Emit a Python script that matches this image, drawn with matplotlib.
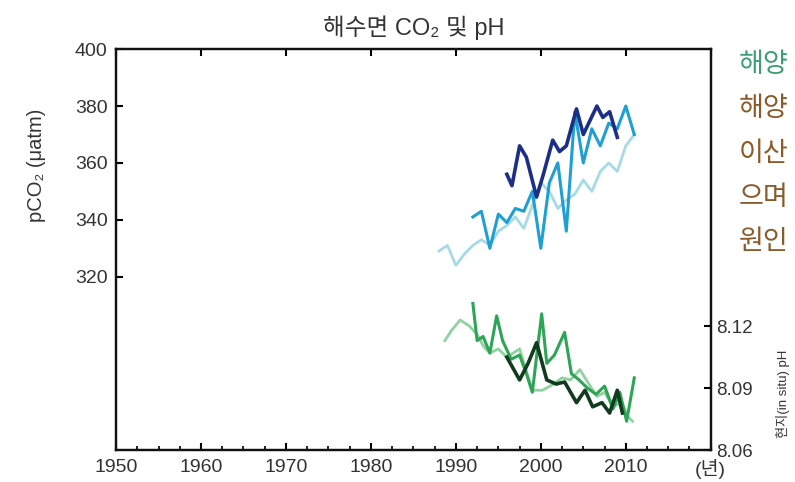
import matplotlib.pyplot as plt
from matplotlib.ticker import MultipleLocator, FixedLocator

plt.rcParams['font.family'] = ['Liberation Sans', 'Noto Sans CJK KR', 'DejaVu Sans']

# surface ocean pCO2 (uatm), three stations
years_co2_a = [1988, 1989, 1990, 1991, 1992, 1993, 1994, 1995, 1996, 1997, 1998, 1999,
               2000, 2001, 2002, 2003, 2004, 2005, 2006, 2007, 2008, 2009, 2010, 2011]
co2_a = [329, 331, 324, 328, 331, 333, 331, 336, 338, 341, 337, 345,
         353, 350, 344, 347, 349, 354, 350, 357, 360, 357, 366, 370]

years_co2_b = [1992, 1993, 1994, 1995, 1996, 1997, 1998, 1999, 2000, 2001,
               2002, 2003, 2004, 2005, 2006, 2007, 2008, 2009, 2010, 2011]
co2_b = [341, 343, 330, 342, 339, 344, 343, 350, 330, 353,
         360, 336, 378, 360, 372, 366, 374, 372, 380, 370]

years_co2_c = [1996, 1996.6, 1997.5, 1998.3, 1999.5, 2000.3, 2001.4, 2002.2, 2003, 2004.2,
               2005, 2006.6, 2007.3, 2008.1, 2009]
co2_c = [356, 352, 366, 362, 348, 356, 368, 364, 366, 379,
         370, 380, 376, 378, 369]

# surface ocean pH (in situ), three stations
years_ph_a = [1988.7, 1989.5, 1990.5, 1991.6, 1992.5, 1993.3, 1994, 1995, 1996, 1997.5,
              1999, 2000.2, 2001.5, 2002.5, 2003.5, 2004.6, 2005.5, 2006.6, 2007.5,
              2008.5, 2009.5, 2010.3, 2010.8]
ph_a = [8.113, 8.118, 8.123, 8.120, 8.116, 8.110, 8.107, 8.109, 8.105, 8.109,
        8.089, 8.089, 8.092, 8.095, 8.094, 8.099, 8.093, 8.086, 8.088,
        8.081, 8.083, 8.076, 8.074]

years_ph_b = [1992, 1992.5, 1993.2, 1994, 1994.8, 1995.5, 1996.5, 1997.5, 1998.3, 1999,
              2000.1, 2000.7, 2001.6, 2002.8, 2003.6, 2004.5, 2005.5, 2006.5, 2007.5,
              2008.5, 2009.3, 2010.1, 2011]
ph_b = [8.131, 8.113, 8.115, 8.107, 8.125, 8.113, 8.104, 8.106, 8.097, 8.088,
        8.126, 8.102, 8.106, 8.117, 8.097, 8.094, 8.090, 8.087, 8.091,
        8.080, 8.088, 8.074, 8.095]

years_ph_c = [1996, 1997.5, 1998.5, 1999.5, 2000.7, 2001.8, 2002.8, 2004.2, 2005.2,
              2006.1, 2007.2, 2008.1, 2009, 2009.6]
ph_c = [8.105, 8.094, 8.102, 8.112, 8.094, 8.092, 8.093, 8.083, 8.089,
        8.081, 8.083, 8.078, 8.089, 8.078]

x_ticks = [1950, 1960, 1970, 1980, 1990, 2000, 2010, 2020]
x_labels = ['1950', '1960', '1970', '1980', '1990', '2000', '2010', '(년)']
side_lines = ['해양', '해양', '이산', '으며', '원인']
side_colors = ['#3a9f72', '#8a5a28', '#8a5a28', '#8a5a28', '#8a5a28']

txt = '#333333'
fig = plt.figure(figsize=(7.95, 4.82), dpi=100)
ax = fig.add_axes([0.146, 0.066, 0.748, 0.832])
ax2 = ax.twinx()

ax.plot(years_co2_a, co2_a, color='#a6dbe6', lw=2.0)
ax.plot(years_co2_b, co2_b, color='#1f9fd2', lw=2.2)
ax.plot(years_co2_c, co2_c, color='#1c2f86', lw=2.6)

ax2.plot(years_ph_a, ph_a, color='#8fd29f', lw=2.0)
ax2.plot(years_ph_b, ph_b, color='#2ea456', lw=2.2)
ax2.plot(years_ph_c, ph_c, color='#123a1e', lw=2.6)

ax.set_xlim(1950, 2020)
ax.set_ylim(259, 400)
ax2.set_ylim(8.06, 8.254)

ax.xaxis.set_major_locator(FixedLocator(x_ticks))
ax.set_xticklabels(x_labels)
ax.xaxis.set_minor_locator(MultipleLocator(2.5))
ax.yaxis.set_major_locator(FixedLocator([320, 340, 360, 380, 400]))
ax2.yaxis.set_major_locator(FixedLocator([8.06, 8.09, 8.12]))
ax2.set_yticklabels(['8.06', '8.09', '8.12'])

ax.tick_params(axis='x', which='major', direction='in', top=True, length=5, width=1.5,
               labelsize=14, labelcolor=txt, pad=6)
ax.tick_params(axis='x', which='minor', direction='in', top=False, length=3, width=1.2)
ax.tick_params(axis='y', direction='in', length=5, width=1.5, labelsize=14,
               labelcolor=txt, pad=6)
ax2.tick_params(axis='y', direction='in', length=5, width=1.5, labelsize=13.5,
                labelcolor=txt, pad=4)

for a in (ax, ax2):
    for s in a.spines.values():
        s.set_linewidth(1.6)
        s.set_color('#111111')

ax.set_title('해수면 CO₂ 및 pH', fontsize=17, color=txt, pad=10)
ax.set_ylabel('pCO₂ (μatm)', fontsize=14.5, color=txt)
ax.yaxis.set_label_coords(-0.118, 0.71)
ax2.set_ylabel('현지(in situ) pH', fontsize=9.5, color=txt)
ax2.yaxis.set_label_coords(1.11, 0.14)

for i, (s, c) in enumerate(zip(side_lines, side_colors)):
    fig.text(0.929, 0.865 - i * 0.092, s, fontsize=19.5, color=c, va='center', ha='left')

fig.savefig('out.png', dpi=100)
